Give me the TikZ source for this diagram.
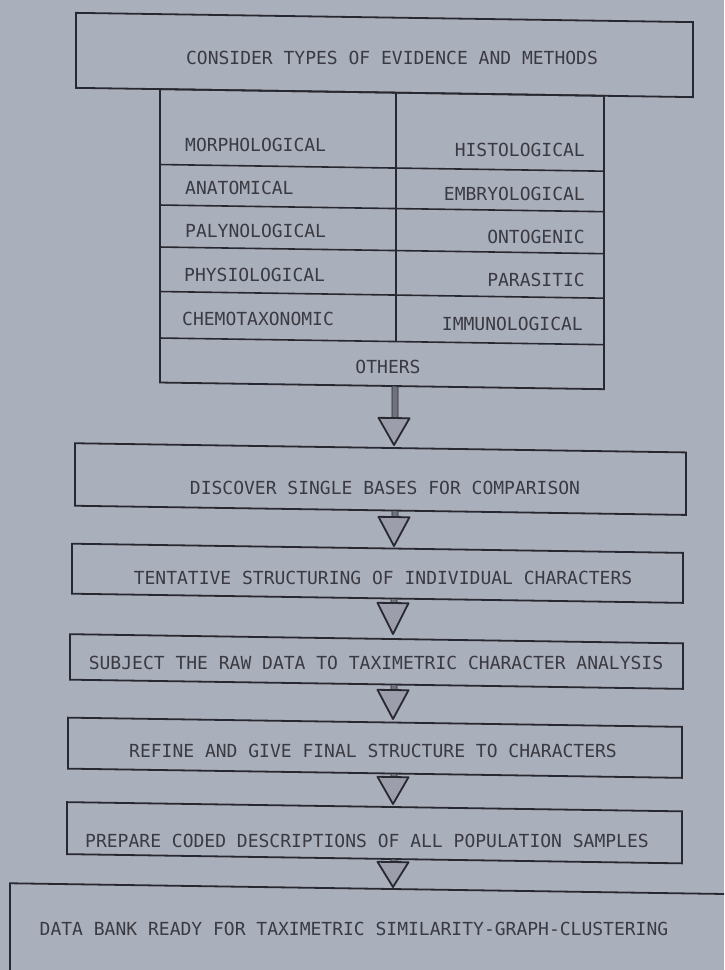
\documentclass[tikz,border=0pt]{standalone}
\usepackage{fontspec}
\usetikzlibrary{calc}
\newfontfamily\lettering{DejaVu Sans Mono}
\definecolor{bg}{RGB}{170,175,188}
\definecolor{ink}{RGB}{40,40,48}
\definecolor{txt}{RGB}{58,58,66}
\definecolor{shaftc}{RGB}{112,115,125}
\definecolor{trifill}{RGB}{156,159,171}
\begin{document}
\begin{tikzpicture}[x=1pt,y=-1pt,
  box/.style={draw=ink, line width=1.8pt, inner sep=0pt, outer sep=0pt, anchor=north west},
  rule/.style={draw=ink, line width=1.6pt},
  lab/.style={font=\lettering\fontsize{18}{21}\selectfont, text=txt, inner sep=0pt},
  shaftbar/.style={draw=ink, line width=0.9pt, fill=shaftc},
  tri/.style={draw=ink, line width=1.8pt, fill=trifill, line join=round}]
\useasboundingbox (0,0) rectangle (724,970);
\fill[bg] (0,0) rectangle (724,970);
\clip (0,0) rectangle (724,970);
\begin{scope}[cm={1,-0.015,0,1,(0pt,5.88pt)}, every node/.append style={transform shape}]
% top box and table
\node[box, minimum width=617pt, minimum height=75pt] (b1) at (76,17.6) {};
\node[box, minimum width=444pt, minimum height=293.4pt] (tbl) at (160,92.6) {};
\draw[rule] (396,92.6) -- (396,341.5);
\foreach \yy in {168,208.5,250.5,295,341.5}
  \draw[rule] (160,\yy) -- (604,\yy);
% step boxes
\node[box, minimum width=611pt, minimum height=62.5pt] (b2) at (75,448) {};
\node[box, minimum width=611pt, minimum height=50pt] (b3) at (72,548.5) {};
\node[box, minimum width=613pt, minimum height=45.5pt] (b4) at (70,639) {};
\node[box, minimum width=614pt, minimum height=51pt] (b5) at (68,722.5) {};
\node[box, minimum width=615pt, minimum height=52pt] (b6) at (67,807) {};
\node[box, minimum width=740pt, minimum height=110pt] (b7) at (10,889) {};
% arrows: tip, source box, triangle height
\coordinate (a1) at (394,445);
\coordinate (a2) at (394,546);
\coordinate (a3) at (393,634);
\coordinate (a4) at (393,719);
\coordinate (a5) at (393,804);
\coordinate (a6) at (393,887);
\foreach \t/\s/\h in {a1/tbl/27, a2/b2/29, a3/b3/31, a4/b4/29, a5/b5/27, a6/b6/25}{
  \draw[shaftbar] ($(\s.south -| \t)+(-2,0)$) rectangle ($(\t)+(4,-\h)$);
  \draw[tri] (\t) -- ++(-15.5,-\h) -- ++(31,0) -- cycle;
}
\end{scope}
% texts
\node[lab] (t1) at (392,58.3) {CONSIDER TYPES OF EVIDENCE AND METHODS};
\node[lab, anchor=west] (c1) at (185,144.5) {MORPHOLOGICAL};
\node[lab, anchor=east] (d1) at (585,150) {HISTOLOGICAL};
\node[lab, anchor=west] (c2) at (185,187.5) {ANATOMICAL};
\node[lab, anchor=east] (d2) at (585,194) {EMBRYOLOGICAL};
\node[lab, anchor=west] (c3) at (185,231) {PALYNOLOGICAL};
\node[lab, anchor=east] (d3) at (585,237) {ONTOGENIC};
\node[lab, anchor=west] (c4) at (184,274.5) {PHYSIOLOGICAL};
\node[lab, anchor=east] (d4) at (585,280) {PARASITIC};
\node[lab, anchor=west] (c5) at (182,319) {CHEMOTAXONOMIC};
\node[lab, anchor=east] (d5) at (583,324) {IMMUNOLOGICAL};
\node[lab] (oth) at (388,366.7) {OTHERS};
\node[lab] (t2) at (385,488) {DISCOVER SINGLE BASES FOR COMPARISON};
\node[lab] (t3) at (383,577.5) {TENTATIVE STRUCTURING OF INDIVIDUAL CHARACTERS};
\node[lab] (t4) at (376,662.5) {SUBJECT THE RAW DATA TO TAXIMETRIC CHARACTER ANALYSIS};
\node[lab] (t5) at (373,751) {REFINE AND GIVE FINAL STRUCTURE TO CHARACTERS};
\node[lab] (t6) at (367,841) {PREPARE CODED DESCRIPTIONS OF ALL POPULATION SAMPLES};
\node[lab] (t7) at (354,929) {DATA BANK READY FOR TAXIMETRIC SIMILARITY-GRAPH-CLUSTERING};
\end{tikzpicture}
\end{document}
